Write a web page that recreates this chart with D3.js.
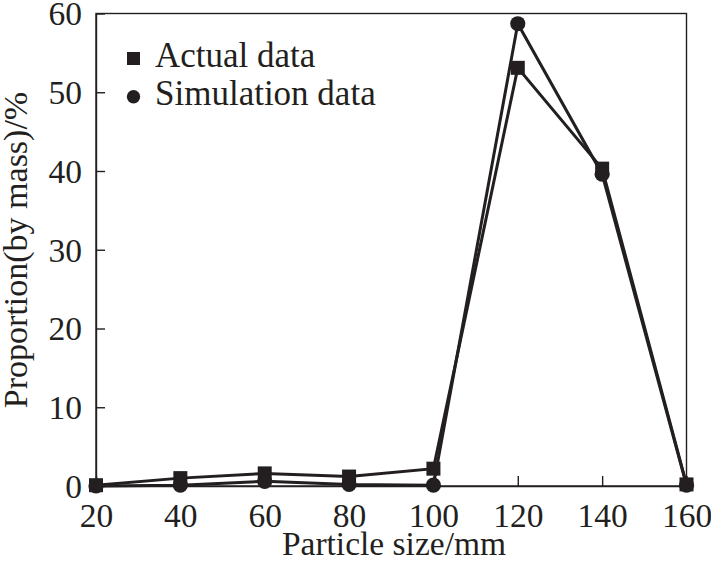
<!DOCTYPE html>
<html>
<head>
<meta charset="utf-8">
<script src="https://cdn.jsdelivr.net/npm/d3@7/dist/d3.min.js"></script>
</head>
<body style="margin:0">
<svg id="chart" width="711" height="571"></svg>
<script>
// ---- data ----
const sizes = [20, 40, 60, 80, 100, 120, 140, 160];
const actualData = [0.1, 1.0, 1.6, 1.2, 2.2, 53.1, 40.3, 0.2];
const simulationData = [0.0, 0.1, 0.6, 0.2, 0.1, 58.7, 39.6, 0.1];
const xTicks = [20, 40, 60, 80, 100, 120, 140, 160];
const yTicks = [0, 10, 20, 30, 40, 50, 60];
const seriesNames = ["Actual data", "Simulation data"];
const xTitle = "Particle size/mm";
const yTitle = "Proportion(by mass)/%";

// ---- layout ----
const ink = "#231f20";
const FONT = "Liberation Serif";
const L = 96, R = 686.5, T = 13.5, B = 486;
const svg = d3.select("#chart");

const x = d3.scaleLinear().domain([20, 160]).range([L, R]);
const y = d3.scaleLinear().domain([0, 60]).range([B, T]);

function styleText(sel, size) {
  sel.attr("font-family", FONT).attr("font-size", size).attr("fill", ink)
     .style("font-family", FONT);
}

// frame
svg.append("rect")
  .attr("x", L).attr("y", T).attr("width", R - L).attr("height", B - T)
  .attr("fill", "none").attr("stroke", ink).attr("stroke-width", 1.4);

// x axis
const gx = svg.append("g").attr("transform", `translate(0,${B})`)
  .call(d3.axisBottom(x).tickValues(xTicks).tickSize(-10).tickSizeOuter(0).tickPadding(17).tickFormat(d3.format("d")));
gx.attr("font-family", FONT).attr("font-size", 33.5);
gx.select(".domain").attr("stroke", ink).attr("stroke-width", 1.4);
gx.selectAll(".tick line").attr("stroke", ink).attr("stroke-width", 1.4);
styleText(gx.selectAll(".tick text"), 33.5);

// y axis
const gy = svg.append("g").attr("transform", `translate(${L},0)`)
  .call(d3.axisLeft(y).tickValues(yTicks).tickSize(-9).tickSizeOuter(0).tickPadding(14).tickFormat(d3.format("d")));
gy.attr("font-family", FONT).attr("font-size", 33.5);
gy.select(".domain").attr("stroke", ink).attr("stroke-width", 1.4);
gy.selectAll(".tick line").attr("stroke", ink).attr("stroke-width", 1.4);
styleText(gy.selectAll(".tick text").attr("dy", "0.34em"), 33.5);

// titles
styleText(svg.append("text").attr("x", 394).attr("y", 555).attr("text-anchor", "middle").text(xTitle), 33.5);
styleText(svg.append("text").attr("transform", "translate(27,250) rotate(-90)").attr("text-anchor", "middle").text(yTitle), 34);

// lines
const line = d3.line().x((d, i) => x(sizes[i])).y(d => y(d));
[actualData, simulationData].forEach(s => {
  svg.append("path").datum(s).attr("d", line)
    .attr("fill", "none").attr("stroke", ink).attr("stroke-width", 3).attr("stroke-linejoin", "miter");
});

// markers
const sq = 14;
svg.append("g").selectAll("rect").data(actualData).join("rect")
  .attr("x", (d, i) => x(sizes[i]) - sq / 2).attr("y", d => y(d) - sq / 2)
  .attr("width", sq).attr("height", sq).attr("fill", ink);
svg.append("g").selectAll("circle").data(simulationData).join("circle")
  .attr("cx", (d, i) => x(sizes[i])).attr("cy", d => y(d)).attr("r", 7.6).attr("fill", ink);

// legend
const lg = svg.append("g");
lg.append("rect").attr("x", 127).attr("y", 52).attr("width", 13).attr("height", 13).attr("fill", ink);
lg.append("circle").attr("cx", 133.5).attr("cy", 96.7).attr("r", 6.7).attr("fill", ink);
styleText(lg.append("text").attr("x", 155).attr("y", 67).text(seriesNames[0]), 35);
styleText(lg.append("text").attr("x", 155).attr("y", 104.5).text(seriesNames[1]), 35);
</script>
</body>
</html>
